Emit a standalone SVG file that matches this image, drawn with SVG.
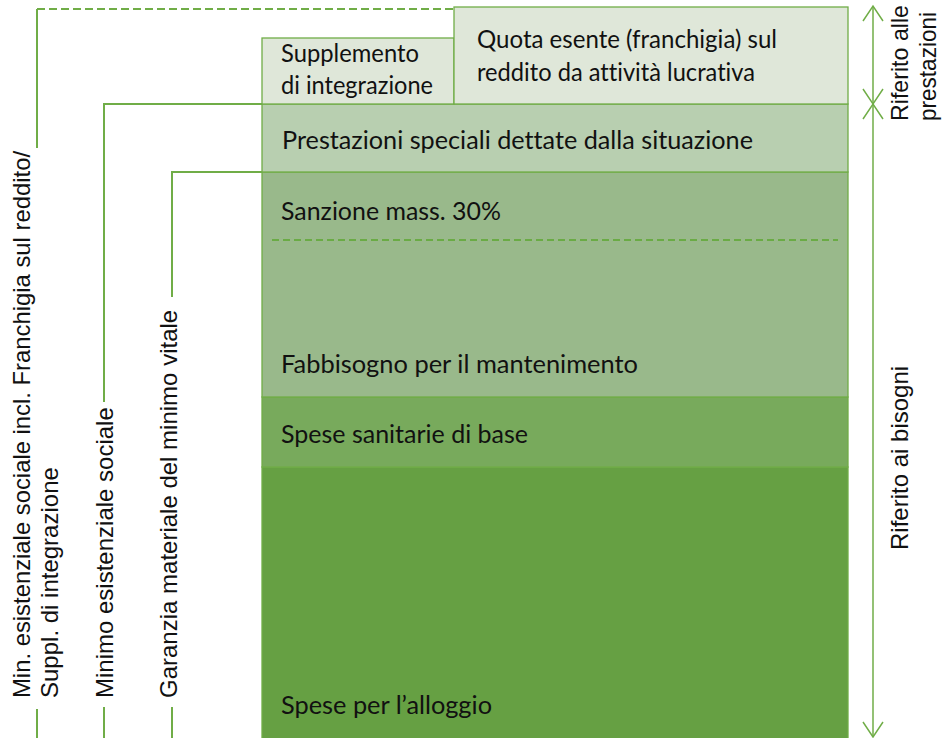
<svg xmlns="http://www.w3.org/2000/svg" width="947" height="738" viewBox="0 0 947 738">
<style>
.box{stroke:#70ad47;stroke-width:1.3}
.t{font-family:Lato,"Open Sans",sans-serif;font-size:24.5px;fill:#111;font-variant-ligatures:none}
.r{font-family:"Liberation Sans",Arial,sans-serif;font-size:24px;fill:#111}
.ln{fill:none;stroke:#70ad47;stroke-width:2}
.dash{fill:none;stroke:#70ad47;stroke-width:2;stroke-dasharray:8,4}
.dash2{fill:none;stroke:#6aab45;stroke-width:2;stroke-dasharray:7,4}
.ax{fill:none;stroke:#70ad47;stroke-width:1.5}
</style>
<defs>
<marker id="chev" markerUnits="userSpaceOnUse" markerWidth="24" markerHeight="24" refX="16" refY="11" orient="auto-start-reverse">
<path d="M1,1 L16,11 L1,21" fill="none" stroke="#70ad47" stroke-width="1.5"/>
</marker>
</defs>

<g id="alloggio"><rect class="box" x="262" y="467" width="586" height="275" fill="#66a043"/><text class="t" x="281" y="714" textLength="211" lengthAdjust="spacingAndGlyphs">Spese per l’alloggio</text></g>
<g id="sanitarie"><rect class="box" x="262" y="397" width="586" height="70" fill="#78aa5c"/><text class="t" x="281" y="443" textLength="247" lengthAdjust="spacingAndGlyphs">Spese sanitarie di base</text></g>
<g id="fabbisogno"><rect class="box" x="262" y="172" width="586" height="225" fill="#99b98b"/><text class="t" x="281" y="220" textLength="220" lengthAdjust="spacingAndGlyphs">Sanzione mass. 30%</text><line class="dash2" x1="272" y1="240" x2="838" y2="240"/><text class="t" x="281" y="373" textLength="357" lengthAdjust="spacingAndGlyphs">Fabbisogno per il mantenimento</text></g>
<g id="prestazioni"><rect class="box" x="262" y="104" width="586" height="68" fill="#b8cfb0"/><text class="t" x="282" y="149" textLength="471" lengthAdjust="spacingAndGlyphs">Prestazioni speciali dettate dalla situazione</text></g>
<g id="supplemento"><rect class="box" x="262" y="38" width="192" height="66" fill="#dfe7d9"/><text class="t" x="281" y="62" textLength="138" lengthAdjust="spacingAndGlyphs">Supplemento</text><text class="t" x="281" y="94" textLength="152" lengthAdjust="spacingAndGlyphs">di integrazione</text></g>
<g id="quota"><rect class="box" x="454" y="7" width="394" height="97" fill="#dfe7d9"/><text class="t" x="477" y="48" textLength="300" lengthAdjust="spacingAndGlyphs">Quota esente (franchigia) sul</text><text class="t" x="477" y="81" textLength="278" lengthAdjust="spacingAndGlyphs">reddito da attività lucrativa</text></g>

<g id="connectors">
<path class="ln" d="M37,148 V9"/>
<path class="dash" d="M37,9 H454"/>
<path class="ln" d="M37,709 V738"/>
<path class="ln" d="M262,104 H104 V402"/>
<path class="ln" d="M104,707 V738"/>
<path class="ln" d="M262,172 H172 V297"/>
<path class="ln" d="M172,707 V738"/>
<line class="ax" x1="873" y1="6" x2="873" y2="104" marker-start="url(#chev)" marker-end="url(#chev)"/>
<line class="ax" x1="873" y1="104" x2="873" y2="737" marker-start="url(#chev)" marker-end="url(#chev)"/>
</g>

<g id="labels-left">
<text class="r" transform="translate(30,698) rotate(-90)" textLength="547" lengthAdjust="spacingAndGlyphs">Min. esistenziale sociale incl. Franchigia sul reddito/</text>
<text class="r" transform="translate(58,698) rotate(-90)">Suppl. di integrazione</text>
<text class="r" transform="translate(113,698) rotate(-90)">Minimo esistenziale sociale</text>
<text class="r" transform="translate(177,698) rotate(-90)">Garanzia materiale del minimo vitale</text>
</g>
<g id="labels-right">
<text class="r" transform="translate(908,121) rotate(-90)" textLength="116" lengthAdjust="spacingAndGlyphs">Riferito alle</text>
<text class="r" transform="translate(936,121) rotate(-90)" textLength="109" lengthAdjust="spacingAndGlyphs">prestazioni</text>
<text class="r" transform="translate(908,550) rotate(-90)">Riferito ai bisogni</text>
</g>
</svg>
